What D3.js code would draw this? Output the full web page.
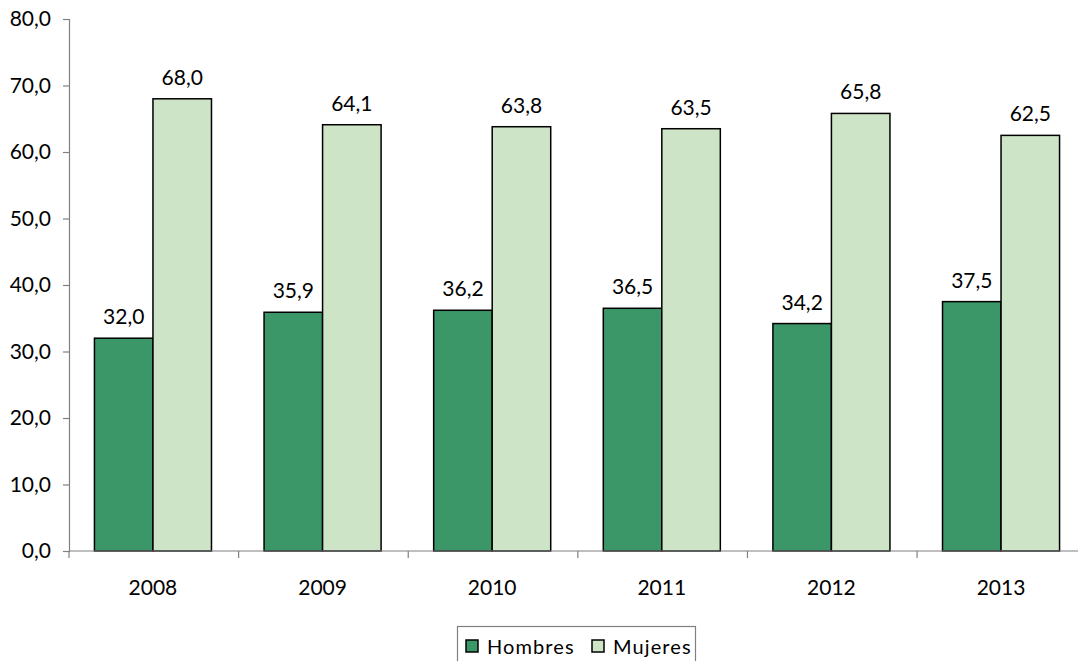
<!DOCTYPE html>
<html><head><meta charset="utf-8">
<script src="https://cdn.jsdelivr.net/npm/d3@7"></script>
<style>
html,body{margin:0;padding:0;background:#fff;}
svg{display:block;}
svg text{font-family:Lato,"Liberation Sans",sans-serif;font-size:21px;fill:#000;}
svg text.leg{font-size:20px;}
</style></head>
<body><svg id="c" width="1078" height="661"></svg>
<script>
const categories = ["2008","2009","2010","2011","2012","2013"];
const seriesNames = ["Hombres","Mujeres"];
const hombres = [32.0,35.9,36.2,36.5,34.2,37.5];
const mujeres = [68.0,64.1,63.8,63.5,65.8,62.5];
const yTicks = [0,10,20,30,40,50,60,70,80];
const colors = ["#3b9668","#cde4c6"];

const svg = d3.select("#c");
const x0 = 69, yBottom = 551, yTop = 19;
const x = d3.scaleBand().domain(categories).range([x0, 1085]).paddingInner(0.31).paddingOuter(0.15);
const xs = d3.scaleBand().domain(seriesNames).range([0, x.bandwidth()]);
const y = d3.scaleLinear().domain([0,80]).range([yBottom, yTop]);
const fmt = v => v.toFixed(1).replace(".", ",");

// bars
const data = [hombres, mujeres];
seriesNames.forEach((s, si) => {
  svg.append("g").selectAll("rect").data(categories).join("rect")
    .attr("x", c => x(c) + xs(s))
    .attr("y", (c,i) => y(data[si][i]))
    .attr("width", xs.bandwidth())
    .attr("height", (c,i) => y(0) - y(data[si][i]))
    .attr("fill", colors[si]).attr("stroke", "#000").attr("stroke-width", 1.5);
  svg.append("g").selectAll("text").data(categories).join("text")
    .attr("x", c => x(c) + xs(s) + xs.bandwidth()/2)
    .attr("y", (c,i) => y(data[si][i]) - 14)
    .attr("text-anchor", "middle")
    .text((c,i) => fmt(data[si][i]));
});

// y axis
const yAxis = d3.axisLeft(y).tickValues(yTicks).tickFormat(fmt).tickSize(6).tickPadding(12);
const gy = svg.append("g").attr("transform", `translate(${x0},0)`).call(yAxis);
gy.attr("font-size", null).attr("font-family", null);
gy.select(".domain").attr("stroke", "#808080").attr("stroke-width", 1.2);
gy.selectAll(".tick line").attr("stroke", "#808080").attr("stroke-width", 1.2);

// x axis
const step = x.step();
const bounds = d3.range(categories.length + 1).map(i => x.range()[0] + i*step);
const gx = svg.append("g");
gx.append("line").attr("x1", x0).attr("x2", 1078).attr("y1", yBottom).attr("y2", yBottom)
  .attr("stroke", "#808080").attr("stroke-width", 1.2);
gx.selectAll("line.t").data(bounds).join("line").attr("class","t")
  .attr("x1", d => d).attr("x2", d => d).attr("y1", yBottom).attr("y2", yBottom + 7)
  .attr("stroke", "#808080").attr("stroke-width", 1.2);
gx.selectAll("text").data(categories).join("text")
  .attr("x", c => x(c) + x.bandwidth()/2).attr("y", 595)
  .attr("text-anchor", "middle").text(c => c);

// legend
const lg = svg.append("g");
lg.append("rect").attr("x", 457.5).attr("y", 626.5).attr("width", 238).attr("height", 50)
  .attr("fill", "#fff").attr("stroke", "#808080").attr("stroke-width", 1.2);
const lx = [466, 592];
seriesNames.forEach((s, i) => {
  lg.append("rect").attr("x", lx[i]).attr("y", 640).attr("width", 12).attr("height", 12)
    .attr("fill", colors[i]).attr("stroke", "#000").attr("stroke-width", 1.5);
  lg.append("text").attr("class", "leg").attr("x", lx[i] + 21).attr("y", 654)
    .attr("letter-spacing", 1.1).text(s);
});
</script></body></html>
